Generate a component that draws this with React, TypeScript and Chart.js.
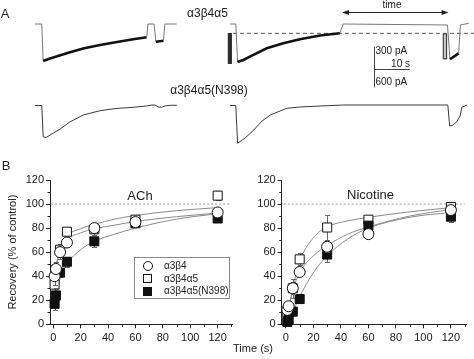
import React, { useEffect, useRef } from 'react';
import { Chart, registerables } from 'chart.js';

Chart.register(...registerables);

const FONT = "'Liberation Sans', Arial, Helvetica, sans-serif";
const INK = '#222';

// ---------------- Panel A : current traces (time in s, current in pA) ----------------
const topLeftTime = [9.7, 11.6, 12.0, 13.9, 16.1, 18.5, 23.1, 27.8, 32.5, 37.0, 40.75, 41.1, 42.8, 43.3, 45.4, 45.8, 49.1];
const topLeftCurrent = [0, 0, -496, -462, -429, -393, -328, -281, -241, -205, -178, 0, 0, -237, -224, 0, 0];

const topRightTime = [63.9, 65.5, 66.0, 67.6, 69.4, 74.1, 78.7, 83.3, 88.9, 94.4, 95.3, 124.3, 125.0, 127.4, 127.9, 130.2];
const topRightCurrent = [0, 0, -509, -482, -438, -326, -259, -205, -154, -125, 0, -13, -473, -393, -13, 9];

const bottomLeftTime = [9.7, 11.6, 12.0, 12.8, 14.4, 16.7, 19.4, 23.1, 27.8, 32.2, 37.0, 40.75, 42.2, 43.1, 43.9, 44.9, 45.8, 47.2, 49.1];
const bottomLeftCurrent = [0, 0, -1023, -1050, -935, -771, -541, -312, -171, -98, -59, -16, 16, 16, -49, -59, -16, 7, 7];

const bottomRightTime = [63.9, 65.5, 66.0, 68.1, 70.5, 72.8, 75.1, 77.8, 79.7, 83.3, 89.0, 95.5, 124.4, 124.9, 125.6, 126.9, 127.8, 128.3, 129.7];
const bottomRightCurrent = [0, 0, -1240, -1066, -804, -508, -312, -180, -92, -49, -16, 16, 16, -672, -656, -531, -344, -59, 16];

// control level (dashed line) after full recovery
const controlLevelTime = [64.7, 131.7];
const controlLevelCurrent = [-125, -125];

// agonist application markers
const appStart = [63.3, 123.0];
const appEnd = [64.4, 124.2];
const appTop = [-121, -125];
const appBottom = [-536, -473];

// "time" arrow and scale bars
const arrowFrom = 95.0;
const arrowTo = 124.6;
const arrowLevel = 157;
const scaleBarTime = [103.8, 113.8]; // 10 s
const scaleBarTop = [-304, -603]; // 300 pA (upper traces)
const scaleBarBottom = [1197, 597]; // 600 pA (lower traces)

// ---------------- Panel B : recovery data ----------------
const intervals = [1, 2, 5, 10, 30, 60, 120];
const xTickValues = [0, 20, 40, 60, 80, 100, 120];
const xMinorTicks = [10, 30, 50, 70, 90, 110, 130];
const yTickValues = [0, 20, 40, 60, 80, 100, 120];
const yMinorTicks = [10, 30, 50, 70, 90, 110];

const achA3B4 = [40, 46, 60, 68, 80, 85, 93];
const achA3B4Err = [7, 6, 6, 4, 4, 4, 3];
const achA3B4A5 = [33, 44, 62, 77, 79, 87, 107];
const achA3B4A5Err = [10, 8, 5, 3, 5, 4, 4];
const achN398 = [17, 24, 43, 52, 69, 84, 88];
const achN398Err = [5, 6, 4, 4, 5, 3, 2];

const nicA3B4 = [12, 15, 30, 43.5, 64.5, 75, 95];
const nicA3B4Err = [3, 3, 5, 3, 4, 3, 2];
const nicA3B4A5 = [10, 12, 30, 54, 80.5, 87, 97.5];
const nicA3B4A5Err = [3, 4, 8, 5, 10, 2, 2];
const nicN398 = [2, 4, 10.5, 21, 58, 82, 89.5];
const nicN398Err = [2, 2, 2, 3, 6, 3, 4.5];

// fitted recovery curves
const fitTime = [0, 2, 5, 10, 20, 30, 45, 60, 90, 120];
const achFitA3B4 = [32, 47, 60, 70, 76, 79.5, 82.5, 85.5, 89.5, 92.5];
const achFitA3B4A5 = [30, 48, 62, 73, 79.5, 83, 87.5, 90.5, 94.5, 97];
const achFitN398 = [14, 25, 38, 50, 62, 69, 75, 80, 87.5, 92];
const nicFitA3B4 = [5, 14, 28, 43, 57, 65.5, 75, 81, 90, 95.5];
const nicFitA3B4A5 = [2, 12, 30, 52, 72, 81, 86, 89, 93.5, 97];
const nicFitN398 = [0, 3, 10, 23, 43, 57, 71, 80, 89, 93];

const controlRef = 100;

const zip = (xs: number[], ys: number[]) => xs.map((x, i) => ({ x, y: ys[i] }));

// ---------------- Panel A chart ----------------
function TraceChart() {
  const ref = useRef<HTMLCanvasElement>(null);
  useEffect(() => {
    const thick = (ctx: any) => ctx.p0.parsed.y < -100 && ctx.p1.parsed.y < -100;
    const decor = {
      id: 'panelADecor',
      afterDatasetsDraw(chart: any) {
        const c = chart.ctx;
        const x = chart.scales.x;
        const yT = chart.scales.yTop;
        const yB = chart.scales.yBot;
        c.save();
        // application bars
        const fills = ['#2a2a2a', '#c4c4c4'];
        appStart.forEach((s, i) => {
          const x0 = x.getPixelForValue(s);
          const x1 = x.getPixelForValue(appEnd[i]);
          const y0 = yT.getPixelForValue(appTop[i]);
          const y1 = yT.getPixelForValue(appBottom[i]);
          c.fillStyle = fills[i];
          c.fillRect(x0, y0, x1 - x0, y1 - y0);
          c.strokeStyle = '#333';
          c.lineWidth = 1;
          c.strokeRect(x0 + 0.5, y0 + 0.5, x1 - x0 - 1, y1 - y0 - 1);
        });
        // time arrow
        const ay = Math.round(yT.getPixelForValue(arrowLevel)) + 0.5;
        const ax0 = x.getPixelForValue(arrowFrom);
        const ax1 = x.getPixelForValue(arrowTo);
        c.strokeStyle = INK;
        c.fillStyle = INK;
        c.lineWidth = 1;
        c.beginPath();
        c.moveTo(ax0 + 2, ay);
        c.lineTo(ax1 - 2, ay);
        c.stroke();
        c.beginPath();
        c.moveTo(ax0, ay);
        c.lineTo(ax0 + 7, ay - 2.5);
        c.lineTo(ax0 + 7, ay + 2.5);
        c.closePath();
        c.fill();
        c.beginPath();
        c.moveTo(ax1, ay);
        c.lineTo(ax1 - 7, ay - 2.5);
        c.lineTo(ax1 - 7, ay + 2.5);
        c.closePath();
        c.fill();
        // scale bars
        const sx = Math.round(x.getPixelForValue(scaleBarTime[0])) + 0.5;
        const sx1 = x.getPixelForValue(scaleBarTime[1]);
        c.strokeStyle = '#444';
        c.beginPath();
        c.moveTo(sx, yT.getPixelForValue(scaleBarTop[0]));
        c.lineTo(sx, yT.getPixelForValue(scaleBarTop[1]));
        c.moveTo(sx, yB.getPixelForValue(scaleBarBottom[0]));
        c.lineTo(sx, yB.getPixelForValue(scaleBarBottom[1]));
        const hy = Math.round(yT.getPixelForValue(scaleBarTop[1])) + 0.5;
        c.moveTo(sx, hy);
        c.lineTo(sx1, hy);
        c.stroke();
        c.restore();
      },
    };
    const chart = new Chart(ref.current!, {
      type: 'line',
      data: {
        datasets: [
          {
            data: zip(topLeftTime, topLeftCurrent),
            yAxisID: 'yTop',
            borderColor: '#777',
            borderWidth: 1,
            pointRadius: 0,
            segment: {
              borderWidth: (ctx: any) => (thick(ctx) ? 2.6 : 1),
              borderColor: (ctx: any) => (thick(ctx) ? '#111' : '#777'),
            },
          },
          {
            data: zip(topRightTime, topRightCurrent),
            yAxisID: 'yTop',
            borderColor: '#777',
            borderWidth: 1,
            pointRadius: 0,
            segment: {
              borderWidth: (ctx: any) => (thick(ctx) ? 2.6 : 1),
              borderColor: (ctx: any) => (thick(ctx) ? '#111' : '#777'),
            },
          },
          {
            data: zip(controlLevelTime, controlLevelCurrent),
            yAxisID: 'yTop',
            borderColor: '#555',
            borderWidth: 1,
            borderDash: [4, 3],
            pointRadius: 0,
          },
          {
            data: zip(bottomLeftTime, bottomLeftCurrent),
            yAxisID: 'yBot',
            borderColor: '#3a3a3a',
            borderWidth: 1,
            pointRadius: 0,
          },
          {
            data: zip(bottomRightTime, bottomRightCurrent),
            yAxisID: 'yBot',
            borderColor: '#3a3a3a',
            borderWidth: 1,
            pointRadius: 0,
          },
        ],
      },
      options: {
        animation: false,
        responsive: false,
        events: [],
        layout: { padding: 0 },
        plugins: { legend: { display: false }, tooltip: { enabled: false } },
        scales: {
          x: { type: 'linear', min: 0, max: 131.67, display: false },
          yTop: { type: 'linear', min: -1822.4, max: 321.6, display: false },
          yBot: { type: 'linear', min: -1787.6, max: 3460.4, display: false },
        },
      },
      plugins: [decor],
    } as any);
    return () => chart.destroy();
  }, []);
  return (
    <canvas
      ref={ref}
      width={474}
      height={160}
      style={{ position: 'absolute', left: 0, top: 0, width: 474, height: 160 }}
    />
  );
}

// ---------------- Panel B charts ----------------
type Series = { y: number[]; err: number[]; kind: 'circle' | 'square' | 'filled' };

function RecoveryChart(props: {
  left: number;
  width: number;
  yAxisWidth: number;
  padRight: number;
  xMin: number;
  xMax: number;
  showYTitle: boolean;
  series: Series[];
  fits: number[][];
}) {
  const ref = useRef<HTMLCanvasElement>(null);
  useEffect(() => {
    const errorBars = {
      id: 'errorBars',
      beforeDatasetDraw(chart: any, args: any) {
        const ds = chart.data.datasets[args.index];
        if (!ds.errValues) return;
        const meta = chart.getDatasetMeta(args.index);
        const yS = chart.scales.y;
        const c = chart.ctx;
        c.save();
        c.strokeStyle = '#666';
        c.lineWidth = 1;
        meta.data.forEach((pt: any, i: number) => {
          const v = ds.data[i].y;
          const e = ds.errValues[i];
          const px = Math.round(pt.x) + 0.5;
          const yHi = Math.round(yS.getPixelForValue(v + e)) + 0.5;
          const yLo = Math.round(yS.getPixelForValue(v - e)) + 0.5;
          c.beginPath();
          c.moveTo(px, yHi);
          c.lineTo(px, yLo);
          c.moveTo(px - 2.5, yHi);
          c.lineTo(px + 2.5, yHi);
          c.moveTo(px - 2.5, yLo);
          c.lineTo(px + 2.5, yLo);
          c.stroke();
        });
        c.restore();
      },
    };
    const minorTicks = {
      id: 'minorTicks',
      afterDraw(chart: any) {
        const c = chart.ctx;
        const xs = chart.scales.x;
        const ys = chart.scales.y;
        const a = chart.chartArea;
        c.save();
        c.strokeStyle = INK;
        c.lineWidth = 1;
        c.beginPath();
        xMinorTicks.forEach((v) => {
          if (v > xs.max) return;
          const px = Math.round(xs.getPixelForValue(v)) + 0.5;
          c.moveTo(px, a.bottom);
          c.lineTo(px, a.bottom + 2.5);
        });
        yMinorTicks.forEach((v) => {
          const py = Math.round(ys.getPixelForValue(v)) + 0.5;
          c.moveTo(a.left, py);
          c.lineTo(a.left - 2.5, py);
        });
        c.stroke();
        c.restore();
      },
    };
    const markerStyle = (kind: string) => {
      if (kind === 'circle') return { pointStyle: 'circle', pointRadius: 5.5, pointBackgroundColor: '#fff', order: 1 };
      if (kind === 'square') return { pointStyle: 'rect', pointRadius: 6.4, pointBackgroundColor: '#fff', order: 3 };
      return { pointStyle: 'rect', pointRadius: 6.4, pointBackgroundColor: '#111', order: 2 };
    };
    const datasets: any[] = [
      {
        data: [
          { x: -1.5, y: controlRef },
          { x: 130, y: controlRef },
        ],
        borderColor: '#9a9a9a',
        borderWidth: 1,
        borderDash: [2, 2],
        pointRadius: 0,
        order: 12,
      },
      ...props.fits.map((f) => ({
        data: zip(fitTime, f),
        borderColor: '#8a8a8a',
        borderWidth: 1,
        pointRadius: 0,
        cubicInterpolationMode: 'monotone',
        order: 10,
        clip: false,
      })),
      ...props.series.map((s) => ({
        data: zip(intervals, s.y),
        errValues: s.err,
        showLine: false,
        pointBorderColor: '#111',
        pointBorderWidth: 1,
        clip: false,
        ...markerStyle(s.kind),
      })),
    ];
    const tickFont = { family: FONT, size: 11 };
    const chart = new Chart(ref.current!, {
      type: 'line',
      data: { datasets },
      options: {
        animation: false,
        responsive: false,
        events: [],
        layout: { padding: { top: 10, right: props.padRight, left: 0, bottom: 0 } },
        plugins: { legend: { display: false }, tooltip: { enabled: false } },
        scales: {
          x: {
            type: 'linear',
            min: props.xMin,
            max: props.xMax,
            afterBuildTicks: (s: any) => {
              s.ticks = xTickValues.map((v) => ({ value: v }));
            },
            afterFit: (s: any) => {
              s.height = 34.7;
            },
            ticks: { font: tickFont, color: INK, padding: 3, maxRotation: 0, autoSkip: false },
            grid: { drawOnChartArea: false, drawTicks: true, tickLength: 4, color: INK },
            border: { display: true, color: INK, width: 1 },
          },
          y: {
            type: 'linear',
            min: 0,
            max: 120,
            afterBuildTicks: (s: any) => {
              s.ticks = yTickValues.map((v) => ({ value: v }));
            },
            afterFit: (s: any) => {
              s.width = props.yAxisWidth;
            },
            ticks: { font: tickFont, color: INK, padding: 2, autoSkip: false },
            grid: { drawOnChartArea: false, drawTicks: true, tickLength: 4, color: INK },
            border: { display: true, color: INK, width: 1 },
            title: {
              display: props.showYTitle,
              text: 'Recovery (% of control)',
              font: { family: FONT, size: 11 },
              color: INK,
              padding: { top: 6, bottom: 0 },
            },
          },
        },
      },
      plugins: [errorBars, minorTicks],
    } as any);
    return () => chart.destroy();
  }, []);
  return (
    <canvas
      ref={ref}
      width={props.width}
      height={189}
      style={{ position: 'absolute', left: props.left, top: 170, width: props.width, height: 189 }}
    />
  );
}

function Label(props: { x: number; y: number; size: number; text: string; align?: 'left' | 'center' | 'right' }) {
  const align = props.align || 'center';
  const tx = align === 'center' ? '-50%' : align === 'right' ? '-100%' : '0';
  return (
    <div
      style={{
        position: 'absolute',
        left: props.x,
        top: props.y,
        transform: `translate(${tx}, -50%)`,
        fontSize: props.size,
        lineHeight: 1,
        whiteSpace: 'nowrap',
        color: INK,
      }}
    >
      {props.text}
    </div>
  );
}

function LegendMarker({ kind }: { kind: string }) {
  const base: React.CSSProperties = { position: 'absolute', left: 12.5, top: '50%', boxSizing: 'border-box' };
  if (kind === 'circle')
    return <div style={{ ...base, width: 10, height: 10, marginLeft: -5, marginTop: -5, borderRadius: '50%', border: '1px solid #111', background: '#fff' }} />;
  if (kind === 'square')
    return <div style={{ ...base, width: 9, height: 9, marginLeft: -4.5, marginTop: -4.5, border: '1px solid #111', background: '#fff' }} />;
  return <div style={{ ...base, width: 9, height: 9, marginLeft: -4.5, marginTop: -4.5, background: '#111' }} />;
}

const legendItems = [
  { kind: 'circle', text: 'α3β4' },
  { kind: 'square', text: 'α3β4α5' },
  { kind: 'filled', text: 'α3β4α5(N398)' },
];

export default function App() {
  return (
    <div
      style={{
        position: 'absolute',
        left: 0,
        top: 0,
        width: 474,
        height: 359,
        overflow: 'hidden',
        background: '#fff',
        fontFamily: FONT,
      }}
    >
      <TraceChart />
      <RecoveryChart
        left={0}
        width={240}
        yAxisWidth={50}
        padRight={3}
        xMin={-2.35}
        xMax={130.9}
        showYTitle={true}
        series={[
          { y: achA3B4A5, err: achA3B4A5Err, kind: 'square' },
          { y: achN398, err: achN398Err, kind: 'filled' },
          { y: achA3B4, err: achA3B4Err, kind: 'circle' },
        ]}
        fits={[achFitA3B4, achFitA3B4A5, achFitN398]}
      />
      <RecoveryChart
        left={240}
        width={234}
        yAxisWidth={41.7}
        padRight={4}
        xMin={-3.07}
        xMax={131.4}
        showYTitle={false}
        series={[
          { y: nicA3B4A5, err: nicA3B4A5Err, kind: 'square' },
          { y: nicN398, err: nicN398Err, kind: 'filled' },
          { y: nicA3B4, err: nicA3B4Err, kind: 'circle' },
        ]}
        fits={[nicFitA3B4, nicFitA3B4A5, nicFitN398]}
      />

      <Label x={5} y={12.5} size={13} text="A" />
      <Label x={6} y={165} size={13} text="B" />
      <Label x={207.5} y={12.5} size={12} text="α3β4α5" />
      <Label x={209} y={90} size={12} text="α3β4α5(N398)" />
      <Label x={392} y={5} size={10} text="time" />
      <Label x={375.5} y={51} size={10} text="300 pA" align="left" />
      <Label x={410} y={63.5} size={10} text="10 s" align="right" />
      <Label x={375.5} y={82} size={10} text="600 pA" align="left" />
      <Label x={140} y={195} size={13} text="ACh" />
      <Label x={370.5} y={194} size={13} text="Nicotine" />
      <Label x={253} y={348} size={11} text="Time (s)" />

      <div
        style={{
          position: 'absolute',
          left: 134,
          top: 257,
          width: 96,
          height: 42,
          boxSizing: 'border-box',
          border: '1px solid #888',
          background: '#fff',
        }}
      >
        {legendItems.map((it, i) => (
          <div key={i} style={{ position: 'absolute', left: 0, top: 2 + i * 12.5, width: '100%', height: 12.5 }}>
            <LegendMarker kind={it.kind} />
            <div
              style={{
                position: 'absolute',
                left: 29,
                top: '50%',
                transform: 'translateY(-50%)',
                fontSize: 10,
                lineHeight: 1,
                whiteSpace: 'nowrap',
                color: INK,
              }}
            >
              {it.text}
            </div>
          </div>
        ))}
      </div>
    </div>
  );
}
